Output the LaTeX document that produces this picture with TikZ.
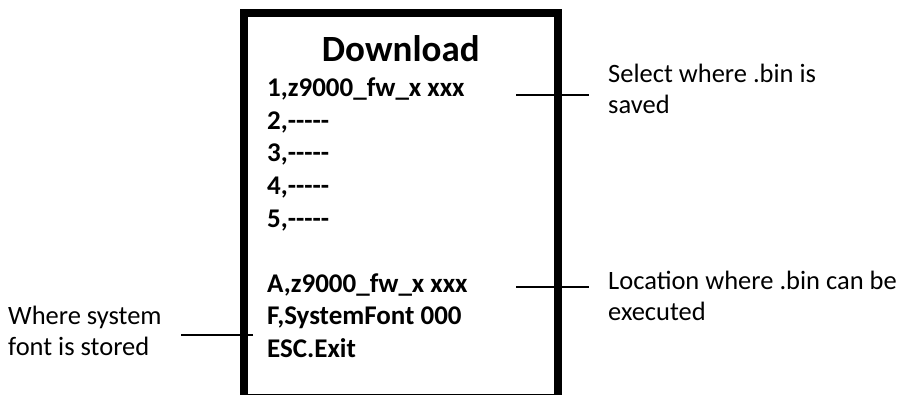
\documentclass[tikz,border=0pt]{standalone}
\usepackage{fontspec}
\setmainfont{Carlito}[Ligatures=TeXOff]
\tikzset{
  frame/.style={line width=8pt},
  menutitle/.style={anchor=base, inner sep=0pt, font=\fontsize{37}{44}\selectfont\bfseries},
  menuitem/.style={anchor=base west, inner sep=0pt, font=\fontsize{27}{32.5}\selectfont\bfseries},
  note/.style={anchor=base west, inner xsep=19pt, inner ysep=0pt, align=left, font=\fontsize{26.5}{31}\selectfont},
  leader/.style={line width=1.5pt},
}

\begin{document}
\begin{tikzpicture}[x=1pt, y=-1pt]
    \useasboundingbox (0,0) rectangle (901,395);
    \clip (0,0) rectangle (901,395);

    % Screen frame
    \draw[frame] (244,13) rectangle (557.5,397.5);
    \node[menutitle] (title) at (400.75,62) {Download};

    % Menu entries
    \node[menuitem] (item1) at (267,97) {1,z9000\_fw\_x xxx};
    \node[menuitem] (item2) at (267,129.5) {2,-----};
    \node[menuitem] (item3) at (267,162) {3,-----};
    \node[menuitem] (item4) at (267,194.5) {4,-----};
    \node[menuitem] (item5) at (267,227) {5,-----};
    \node[menuitem] (itemA) at (267,292) {A,z9000\_fw\_x xxx};
    \node[menuitem] (itemF) at (267,324.5) {F,SystemFont 000};
    \node[menuitem] (itemEsc) at (267,357) {ESC.Exit};

    % Notes (base = last line)
    \coordinate (selpt) at (516,95);
    \node[note] (selnote) at (589,114) {Select where .bin is\\saved};
    \draw[leader] (selpt) -- (selpt -| selnote.west);

    \coordinate (runpt) at (516,287);
    \node[note] (runnote) at (589,320) {Location where .bin can be\\executed};
    \draw[leader] (runpt) -- (runpt -| runnote.west);

    \coordinate (fontpt) at (253,335);
    \node[note] (fontnote) at (-11,355) {Where system\\font is stored};
    \draw[leader] (fontpt) -- (fontpt -| fontnote.east);
\end{tikzpicture}
\end{document}
